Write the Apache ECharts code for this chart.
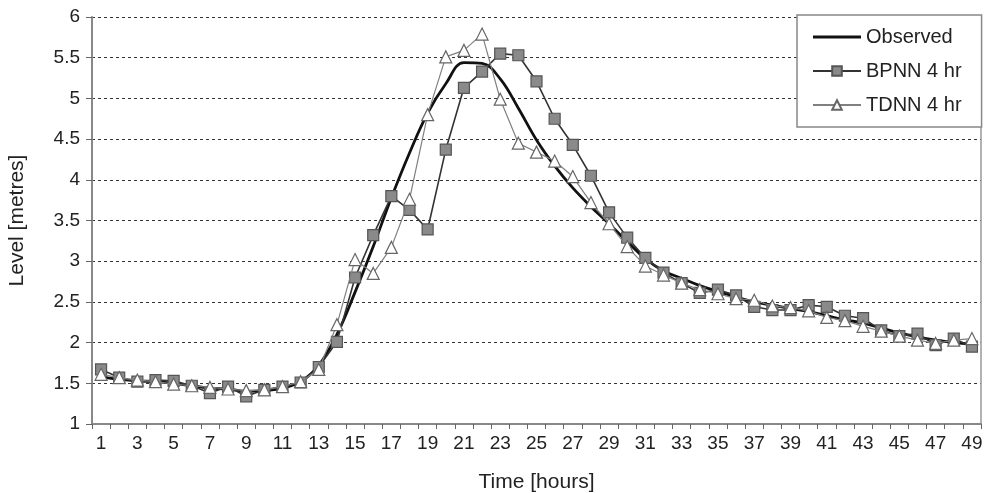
<!DOCTYPE html>
<html>
<head>
<meta charset="utf-8">
<script src="https://cdn.jsdelivr.net/npm/echarts@6/dist/echarts.min.js"></script>
<style>html,body{margin:0;padding:0;background:#fff;}#c{width:995px;height:493px;}</style>
</head>
<body>
<div id="c"></div>
<script>
var hours = [];
for (var i = 1; i <= 49; i++) hours.push(String(i));

var observed = [1.58,1.55,1.53,1.52,1.50,1.47,1.44,1.43,1.40,1.41,1.44,1.52,1.72,2.10,2.62,3.18,3.78,4.33,4.82,5.18,5.44,5.43,5.24,4.88,4.49,4.17,3.90,3.67,3.46,3.24,3.03,2.88,2.79,2.70,2.63,2.56,2.50,2.46,2.42,2.38,2.33,2.28,2.24,2.18,2.12,2.07,2.03,2.00,1.98];
var bpnn = [1.67,1.57,1.52,1.54,1.53,1.47,1.38,1.46,1.34,1.42,1.46,1.51,1.70,2.01,2.80,3.32,3.80,3.63,3.39,4.37,5.13,5.33,5.55,5.53,5.21,4.75,4.43,4.05,3.60,3.29,3.04,2.86,2.73,2.61,2.65,2.58,2.44,2.40,2.40,2.46,2.44,2.33,2.30,2.15,2.08,2.11,1.97,2.05,1.95];
var tdnn = [1.61,1.57,1.54,1.52,1.49,1.47,1.45,1.43,1.41,1.42,1.46,1.52,1.67,2.22,3.02,2.85,3.17,3.76,4.80,5.51,5.59,5.79,4.99,4.45,4.34,4.23,4.04,3.72,3.46,3.18,2.94,2.83,2.73,2.65,2.60,2.54,2.52,2.45,2.43,2.39,2.31,2.27,2.20,2.14,2.08,2.03,1.99,2.03,2.05];

var FONT = '"Liberation Sans", Arial, sans-serif';
var chart = echarts.init(document.getElementById('c'), null, {renderer: 'canvas'});
chart.setOption({
  animation: false,
  backgroundColor: '#fff',
  grid: {left: 92, right: 14, top: 17, bottom: 69, containLabel: false, outerBoundsMode: 'none'},
  legend: {
    orient: 'vertical',
    left: 797, top: 15,
    padding: [12, 20, 12, 15],
    itemWidth: 48, itemHeight: 12, itemGap: 14,
    borderColor: '#888', borderWidth: 1.5, borderRadius: 0,
    backgroundColor: '#fff',
    textStyle: {fontFamily: FONT, fontSize: 20, color: '#222'},
    data: [
      {name: 'Observed', icon: 'path://M0,0H48V3H0Z'},
      'BPNN 4 hr',
      'TDNN 4 hr'
    ]
  },
  xAxis: {
    type: 'category',
    data: hours,
    boundaryGap: true,
    name: 'Time [hours]',
    nameLocation: 'middle',
    nameGap: 48,
    nameTextStyle: {fontFamily: FONT, fontSize: 21, color: '#222'},
    axisLine: {lineStyle: {color: '#888', width: 2}},
    axisTick: {show: true, interval: 0, length: 5, lineStyle: {color: '#666'}},
    axisLabel: {interval: 1, margin: 10, fontFamily: FONT, fontSize: 19, color: '#222'},
    splitLine: {show: false}
  },
  yAxis: [{
    type: 'value',
    min: 1, max: 6, interval: 0.5,
    name: 'Level [metres]',
    nameLocation: 'middle',
    nameGap: 64,
    nameTextStyle: {fontFamily: FONT, fontSize: 21, color: '#222'},
    axisLine: {show: true, lineStyle: {color: '#888', width: 2}},
    axisTick: {show: true, length: 6, lineStyle: {color: '#666'}},
    axisLabel: {margin: 12, fontFamily: FONT, fontSize: 19, color: '#222'},
    splitLine: {show: true, lineStyle: {color: '#333', type: [3, 3], width: 1}}
  }, {
    type: 'value',
    min: 1, max: 6, interval: 0.5,
    position: 'right',
    axisLine: {show: true, lineStyle: {color: '#999', width: 1.5}},
    axisTick: {show: false},
    axisLabel: {show: false},
    splitLine: {show: false}
  }],
  series: [{
    name: 'Observed',
    type: 'line',
    data: observed,
    smooth: 0.4,
    symbol: 'none',
    lineStyle: {color: '#111', width: 2.8},
    itemStyle: {color: '#111'},
    z: 3
  }, {
    name: 'BPNN 4 hr',
    type: 'line',
    data: bpnn,
    symbol: 'rect',
    symbolSize: 11,
    lineStyle: {color: '#333', width: 1.6},
    itemStyle: {color: '#8a8a8a', borderColor: '#555', borderWidth: 1.2},
    z: 4
  }, {
    name: 'TDNN 4 hr',
    type: 'line',
    data: tdnn,
    symbol: 'triangle',
    symbolSize: 12,
    lineStyle: {color: '#808080', width: 1.2},
    itemStyle: {color: '#fff', borderColor: '#666', borderWidth: 1.2},
    z: 5
  }]
});
</script>
</body>
</html>
